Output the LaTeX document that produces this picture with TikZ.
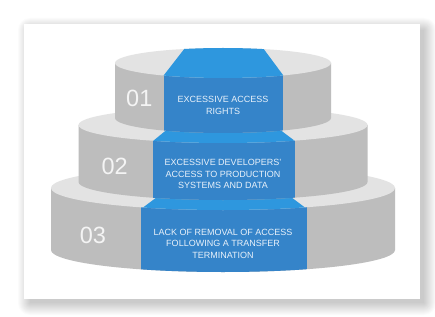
\documentclass[tikz,border=0pt]{standalone}
\usepackage{fontspec}
\setmainfont{Liberation Sans}
\begin{document}
\begin{tikzpicture}[x=1pt,y=1pt,
  sidegray/.style={fill=sideC},
  topgray/.style={fill=topC},
  bandblue/.style={fill=bandC},
  topblue/.style={fill=topbC},
  lbl/.style={text=txtC, font=\fontsize{9}{11.8}\selectfont, align=center, inner sep=0pt},
  num/.style={text=numC, font=\fontsize{23.5}{24}\selectfont, inner sep=0pt, anchor=base}]
\definecolor{sideC}{HTML}{BDBDBD}
\definecolor{topC}{HTML}{E3E3E3}
\definecolor{bandC}{HTML}{3584C9}
\definecolor{topbC}{HTML}{2E97DE}
\definecolor{txtC}{HTML}{E8F1FA}
\definecolor{numC}{HTML}{F4F4F4}
\useasboundingbox (0,0) rectangle (435,316);
\fill[white] (0,0) rectangle (435,316);
% card shadow
\foreach \e in {0,1,...,12}{
  \fill[black, opacity=0.017, rounded corners=\e pt] (30-\e,13-\e) rectangle (424+\e,286+\e);
}
\fill[white] (24,17) rectangle (420,292);
% ---------- tier 3 ----------
\fill[sidegray] (51,128) -- (51,66) arc[start angle=180,end angle=360,x radius=172pt,y radius=22pt] -- (395,128) -- cycle;
\begin{scope}
  \clip (51,128) -- (51,66) arc[start angle=180,end angle=360,x radius=172pt,y radius=22pt] -- (395,128) -- cycle;
  \fill[bandblue] (141,140) rectangle (307,30);
\end{scope}
\fill[topgray] (223,128) ellipse[x radius=172pt,y radius=22pt];
\begin{scope}
  \clip (223,128) ellipse[x radius=172pt,y radius=22pt];
  \fill[topblue] (201,152) -- (247,152) -- (316.3,100) -- (131.7,100) -- cycle;
\end{scope}
% ---------- tier 2 ----------
\fill[sidegray] (78.5,191) -- (78.5,134) arc[start angle=180,end angle=360,x radius=144.5pt,y radius=18pt] -- (367.5,191) -- cycle;
\begin{scope}
  \clip (78.5,191) -- (78.5,134) arc[start angle=180,end angle=360,x radius=144.5pt,y radius=18pt] -- (367.5,191) -- cycle;
  \fill[bandblue] (153,200) rectangle (295,100);
\end{scope}
\fill[topgray] (223,191) ellipse[x radius=144.5pt,y radius=18pt];
\begin{scope}
  \clip (223,191) ellipse[x radius=144.5pt,y radius=18pt];
  \fill[topblue] (201.9,215) -- (241.7,215) -- (308.3,165) -- (140.8,165) -- cycle;
\end{scope}
% ---------- tier 1 ----------
\fill[sidegray] (115,253) -- (115,198) arc[start angle=180,end angle=360,x radius=108pt,y radius=15pt] -- (331,253) -- cycle;
\begin{scope}
  \clip (115,253) -- (115,198) arc[start angle=180,end angle=360,x radius=108pt,y radius=15pt] -- (331,253) -- cycle;
  \fill[bandblue] (164,260) rectangle (283,170);
\end{scope}
\fill[topgray] (223,253) ellipse[x radius=108pt,y radius=15pt];
\begin{scope}
  \clip (223,253) ellipse[x radius=108pt,y radius=15pt];
  \fill[topblue] (188.1,272) -- (260,272) -- (286.7,236) -- (160.1,236) -- cycle;
\end{scope}
% ---------- labels ----------
\node[num] (n1) at (139.3,209) {01};
\node[num] (n2) at (114.7,142) {02};
\node[num] (n3) at (93,73) {03};
\node[lbl] (t1) at (223,210.5) {EXCESSIVE ACCESS\\RIGHTS};
\node[lbl] (t2) at (223,142) {EXCESSIVE DEVELOPERS'\\ACCESS TO PRODUCTION\\SYSTEMS AND DATA};
\node[lbl] (t3) at (223,72.3) {LACK OF REMOVAL OF ACCESS\\FOLLOWING A TRANSFER\\TERMINATION};
\end{tikzpicture}
\end{document}
